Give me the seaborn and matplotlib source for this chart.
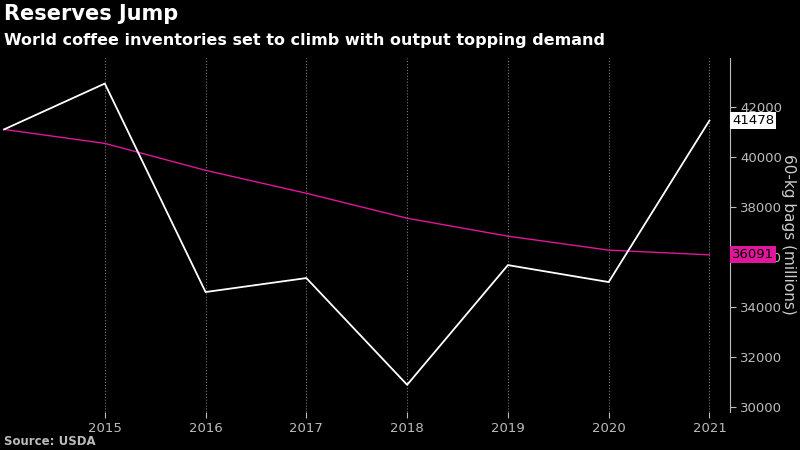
import pandas as pd
import seaborn as sns
import matplotlib.pyplot as plt
import numpy as np

# Function to build the inventory data
def load_inventory_data():
    years = [2014, 2015, 2016, 2017, 2018, 2019, 2020, 2021]
    stocks = [41120, 42960, 34600, 35160, 30880, 35680, 35000, 41478]
    trend = [41120, 40560, 39480, 38560, 37560, 36840, 36280, 36091]
    df = pd.DataFrame({'Year': years, 'Stocks': stocks, 'Trend': trend})
    return df

# Function to save the line chart as an image
def save_chart(df):
    plt.figure(figsize=(8, 4.5), facecolor='black')  # Set the figure size
    ax = plt.axes([0.0, 0.085, 0.912, 0.787], facecolor='black')

    sns.lineplot(data=df, x='Year', y='Trend', color='#e0169b', linewidth=1, ax=ax)
    sns.lineplot(data=df, x='Year', y='Stocks', color='white', linewidth=1.3, ax=ax)

    ax.set_xlim(2013.96, 2021.2)
    ax.set_ylim(29800, 44000)
    ax.set_xticks(range(2015, 2022))
    ax.set_yticks(range(30000, 44000, 2000))
    ax.grid(axis='x', color='#777777', linestyle=':', linewidth=0.8)
    ax.yaxis.tick_right()
    ax.yaxis.set_label_position('right')
    ax.tick_params(colors='#bbbbbb', labelsize=9.5, length=4)
    for side in ['top', 'left', 'bottom']:
        ax.spines[side].set_visible(False)
    ax.spines['right'].set_color('#bbbbbb')
    ax.set_xlabel('')
    ax.set_ylabel('60-kg bags (millions)', color='#cccccc', fontsize=11, rotation=270, labelpad=10)

    # Last-value tags
    ax.annotate('41478', xy=(1.0, 41478), xycoords=('axes fraction', 'data'), xytext=(2, 0),
                textcoords='offset points', va='center', fontsize=9.5, color='black',
                bbox=dict(boxstyle='square,pad=0.15', fc='white', ec='none'))
    ax.annotate('36091', xy=(1.0, 36091), xycoords=('axes fraction', 'data'), xytext=(2, 0),
                textcoords='offset points', va='center', fontsize=9.5, color='black',
                bbox=dict(boxstyle='square,pad=0.15', fc='#e0169b', ec='none'))

    # Set title and labels
    plt.figtext(0.005, 0.955, 'Reserves Jump', color='white', fontsize=15, fontweight='bold')
    plt.figtext(0.005, 0.9, 'World coffee inventories set to climb with output topping demand',
                color='white', fontsize=11.5, fontweight='bold')
    plt.figtext(0.005, 0.012, 'Source: USDA', color='#bbbbbb', fontsize=8.5, fontweight='bold')

    plt.savefig('out.png', dpi=100, facecolor='black')
    plt.close()  # Close the figure to avoid display

data = load_inventory_data()
save_chart(data)
